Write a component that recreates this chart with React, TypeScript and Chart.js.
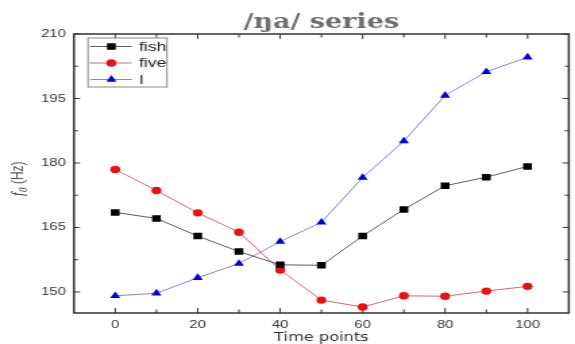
import React, { useEffect, useRef } from 'react';
import { Chart, registerables } from 'chart.js';

Chart.register(...registerables);

// The reference is horizontally stretched: draw at a narrower internal width and stretch with CSS.
const OUT_W = 575;
const OUT_H = 344;
const IN_W = 426;

const timePoints = [0, 10, 20, 30, 40, 50, 60, 70, 80, 90, 100];
const fishValues = [168.5, 167.1, 163.0, 159.4, 156.3, 156.2, 163.0, 169.2, 174.7, 176.7, 179.2];
const fiveValues = [178.5, 173.6, 168.4, 163.9, 155.1, 148.1, 146.5, 149.1, 149.0, 150.2, 151.3];
const iValues = [149.1, 149.7, 153.3, 156.6, 161.7, 166.2, 176.6, 185.1, 195.7, 201.2, 204.6];
const seriesLabels = ['fish', 'five', 'I'];

const xTickLabels = [0, 20, 40, 60, 80, 100];
const xMinorTicks = [10, 30, 50, 70, 90];
const yTickLabels = [150, 165, 180, 195, 210];
const yMinorTicks = [157.5, 172.5, 187.5, 202.5];

const chartTitle = '/ŋa/ series';
const xAxisTitle = 'Time points';
const yTitleItalic = 'f';
const yTitleSub = '0';
const yTitleRest = ' (Hz)';

const decorPlugin = {
  id: 'decor',
  beforeDatasetsDraw(chart: any) {
    const { ctx, chartArea: a, scales } = chart;
    const x = scales.x;
    const y = scales.y;
    ctx.save();
    ctx.strokeStyle = '#333';
    ctx.lineWidth = 1;
    ctx.beginPath();
    const vTick = (v: number, len: number) => {
      const px = x.getPixelForValue(v);
      ctx.moveTo(px, a.bottom);
      ctx.lineTo(px, a.bottom - len);
      ctx.moveTo(px, a.top);
      ctx.lineTo(px, a.top + len);
    };
    const hTick = (v: number, len: number) => {
      const py = y.getPixelForValue(v);
      ctx.moveTo(a.left, py);
      ctx.lineTo(a.left + len, py);
      ctx.moveTo(a.right, py);
      ctx.lineTo(a.right - len, py);
    };
    xTickLabels.forEach((v) => vTick(v, 5));
    xMinorTicks.forEach((v) => vTick(v, 3.5));
    yTickLabels.forEach((v) => hTick(v, 4.5));
    yMinorTicks.forEach((v) => hTick(v, 3));
    ctx.stroke();
    ctx.lineWidth = 1.5;
    ctx.strokeRect(a.left, a.top, a.right - a.left, a.bottom - a.top);
    ctx.restore();
  },
  afterDraw(chart: any) {
    const { ctx, chartArea: a } = chart;
    ctx.save();
    // Title
    ctx.fillStyle = '#6e6e6e';
    ctx.font = 'bold 20px "DejaVu Serif"';
    ctx.textAlign = 'center';
    ctx.textBaseline = 'alphabetic';
    ctx.fillText(chartTitle, (a.left + a.right) / 2, 27.5);

    // Legend
    const lx = 65.2, ly = 38, lw = 58.5, lh = 49;
    ctx.fillStyle = '#fff';
    ctx.fillRect(lx, ly, lw, lh);
    ctx.strokeStyle = '#888';
    ctx.lineWidth = 1;
    ctx.strokeRect(lx, ly, lw, lh);
    const rows = [46.5, 63, 79.5];
    chart.data.datasets.forEach((ds: any, i: number) => {
      const ry = rows[i];
      ctx.strokeStyle = ds.borderColor;
      ctx.lineWidth = 1;
      ctx.beginPath();
      ctx.moveTo(66.7, ry);
      ctx.lineTo(97.6, ry);
      ctx.stroke();
      const cx = 82.5;
      ctx.fillStyle = ds.pointBackgroundColor;
      const r = ds.pointRadius;
      ctx.beginPath();
      if (ds.pointStyle === 'rect') {
        const s = Math.SQRT1_2 * r;
        ctx.rect(cx - s, ry - s, 2 * s, 2 * s);
      } else if (ds.pointStyle === 'circle') {
        ctx.arc(cx, ry, r, 0, Math.PI * 2);
      } else {
        let rad = 0;
        ctx.moveTo(cx + Math.sin(rad) * r, ry - Math.cos(rad) * r);
        rad += (2 * Math.PI) / 3;
        ctx.lineTo(cx + Math.sin(rad) * r, ry - Math.cos(rad) * r);
        rad += (2 * Math.PI) / 3;
        ctx.lineTo(cx + Math.sin(rad) * r, ry - Math.cos(rad) * r);
        ctx.closePath();
      }
      ctx.fill();
      ctx.fillStyle = '#222';
      ctx.font = '13px "Liberation Sans", Arial';
      ctx.textAlign = 'left';
      ctx.textBaseline = 'middle';
      ctx.fillText(ds.label, 103, ry + 0.5);
    });

    // Y axis title, rotated
    const fItalic = 'italic 13px "Liberation Serif"';
    const fSub = 'italic 9px "Liberation Serif"';
    const fRest = '12px "Liberation Sans", Arial';
    ctx.font = fItalic;
    const w1 = ctx.measureText(yTitleItalic).width;
    ctx.font = fSub;
    const w2 = ctx.measureText(yTitleSub).width;
    ctx.font = fRest;
    const w3 = ctx.measureText(yTitleRest).width;
    const total = w1 + w2 + w3;
    ctx.translate(17, 179);
    ctx.rotate(-Math.PI / 2);
    ctx.textAlign = 'left';
    ctx.textBaseline = 'alphabetic';
    let px = -total / 2;
    ctx.fillStyle = '#333';
    ctx.font = fItalic;
    ctx.fillText(yTitleItalic, px, 0);
    px += w1 + 0.5;
    ctx.font = fSub;
    ctx.fillText(yTitleSub, px, 2.5);
    px += w2;
    ctx.fillStyle = '#555';
    ctx.font = fRest;
    ctx.fillText(yTitleRest, px, 0);
    ctx.restore();
  },
};

export default function App() {
  const canvasRef = useRef<HTMLCanvasElement | null>(null);

  useEffect(() => {
    document.body.style.margin = '0';
    const canvas = canvasRef.current;
    if (!canvas) return;
    const mk = (vals: number[]) => timePoints.map((t, i) => ({ x: t, y: vals[i] }));
    const chart = new Chart(canvas, {
      type: 'line',
      data: {
        datasets: [
          {
            label: seriesLabels[0],
            data: mk(fishValues),
            borderColor: '#5a5a5a',
            borderWidth: 1,
            pointStyle: 'rect',
            pointRadius: 4.6,
            pointBackgroundColor: '#000',
            pointBorderColor: '#000',
            pointBorderWidth: 0,
          },
          {
            label: seriesLabels[1],
            data: mk(fiveValues),
            borderColor: '#cf6b6b',
            borderWidth: 1,
            pointStyle: 'circle',
            pointRadius: 3.7,
            pointBackgroundColor: '#ee1010',
            pointBorderColor: '#ee1010',
            pointBorderWidth: 0,
          },
          {
            label: seriesLabels[2],
            data: mk(iValues),
            borderColor: '#8585d6',
            borderWidth: 1,
            pointStyle: 'triangle',
            pointRadius: 4.4,
            pointBackgroundColor: '#0000e0',
            pointBorderColor: '#0000e0',
            pointBorderWidth: 0,
          },
        ],
      } as any,
      options: {
        responsive: false,
        animation: false,
        devicePixelRatio: 1,
        layout: { padding: { top: 34, right: 4.1, left: 0, bottom: 0 } },
        plugins: {
          legend: { display: false },
          title: { display: false },
          tooltip: { enabled: false },
        },
        scales: {
          x: {
            type: 'linear',
            min: -10,
            max: 110,
            afterBuildTicks: (s: any) => {
              s.ticks = xTickLabels.map((v) => ({ value: v }));
            },
            afterFit: (s: any) => {
              s.height = 31;
            },
            grid: { display: false, drawTicks: false },
            border: { display: false },
            ticks: {
              font: { family: '"Liberation Sans", Arial', size: 11 },
              color: '#333',
              padding: 5,
              maxRotation: 0,
              autoSkip: false,
            },
            title: {
              display: true,
              text: xAxisTitle,
              font: { family: '"DejaVu Sans"', size: 12, lineHeight: 1 },
              color: '#333',
              padding: 0,
            },
          },
          y: {
            type: 'linear',
            min: 145.1,
            max: 210,
            afterBuildTicks: (s: any) => {
              s.ticks = yTickLabels.map((v) => ({ value: v }));
            },
            afterFit: (s: any) => {
              s.width = 54.8;
            },
            grid: { display: false, drawTicks: false },
            border: { display: false },
            ticks: {
              font: { family: '"Liberation Sans", Arial', size: 11 },
              color: '#333',
              padding: 6,
            },
          },
        },
      } as any,
      plugins: [decorPlugin],
    });
    return () => chart.destroy();
  }, []);

  return (
    <canvas
      ref={canvasRef}
      width={IN_W}
      height={OUT_H}
      style={{ position: 'absolute', left: 0, top: 0, width: OUT_W + 'px', height: OUT_H + 'px', display: 'block' }}
    />
  );
}
